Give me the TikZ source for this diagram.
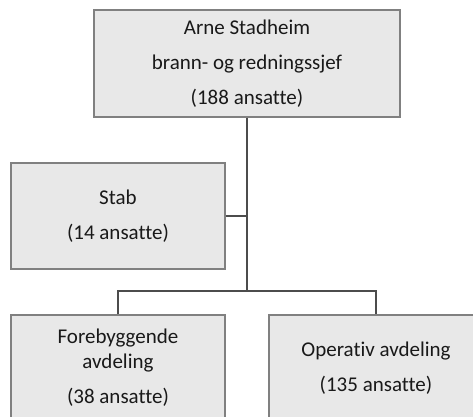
\documentclass[tikz,border=0pt]{standalone}
\usepackage{fontspec}
\setmainfont{Carlito}[Ligatures=NoCommon]
\usepackage{xcolor}
\colorlet{boxFill}{black!9}
\colorlet{boxLine}{black!50}
\colorlet{linkLine}{black!70}

\begin{document}
\begin{tikzpicture}[x=1pt, y=-1pt,
    unit/.style={draw=boxLine, fill=boxFill, line width=1.2pt, align=center,
      minimum width=214pt, minimum height=106pt, inner sep=0pt,
      font=\fontsize{21}{25}\selectfont, text=black!90},
    link/.style={draw=linkLine, line width=1.2pt}]
  \useasboundingbox (0,0) rectangle (473,416);
  \clip (0,0) rectangle (473,416);

  \node[unit, minimum width=306pt, minimum height=107pt] (chief) at (247,63.5)
    {Arne Stadheim\\[10pt] brann- og redningssjef\\[10pt] (188 ansatte)};
  \node[unit] (staff) at (118,216) {Stab\\[10pt] (14 ansatte)};
  \node[unit] (prevent) at (118,368) {Forebyggende\\ avdeling\\[10pt] (38 ansatte)};
  \node[unit] (ops) at (376,368) {Operativ avdeling\\[10pt] (135 ansatte)};

  \coordinate (hub) at (chief.south |- 0,291);
  \draw[link] (chief.south) -- (hub);
  \draw[link] (staff.east) -- (staff.east -| chief.south);
  \draw[link] (prevent.north) |- (hub) -| (ops.north);
\end{tikzpicture}
\end{document}
